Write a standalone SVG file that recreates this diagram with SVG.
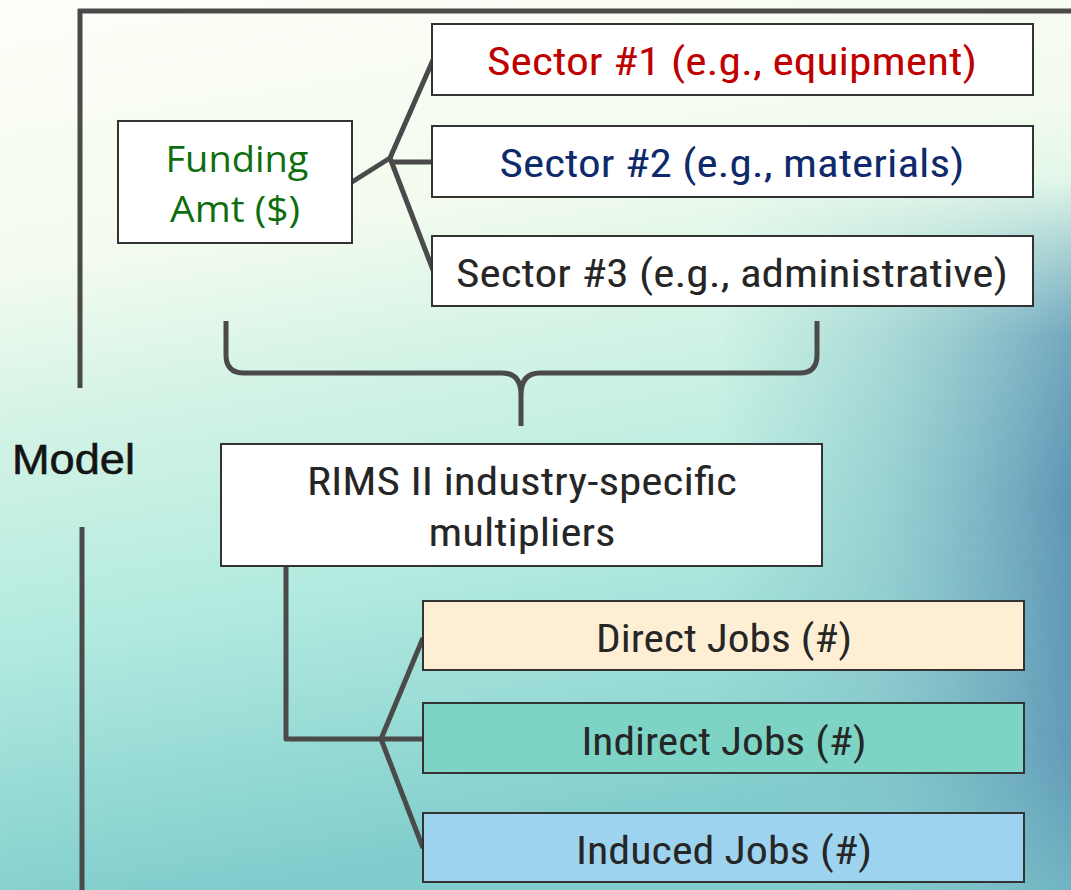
<svg xmlns="http://www.w3.org/2000/svg" width="1071" height="890" viewBox="0 0 1071 890">
<defs>
<linearGradient id="bg" x1="0" y1="0" x2="0.2" y2="1">
<stop offset="0" stop-color="#FEFEF8"/>
<stop offset="0.3" stop-color="#F2FBEE"/>
<stop offset="0.45" stop-color="#D5F4E6"/>
<stop offset="0.7" stop-color="#B2EADF"/>
<stop offset="1" stop-color="#80CDCD"/>
</linearGradient>
<linearGradient id="blueH" x1="720" y1="0" x2="1071" y2="0" gradientUnits="userSpaceOnUse">
<stop offset="0" stop-color="#8CC8CC" stop-opacity="0"/>
<stop offset="0.45" stop-color="#86C0C9" stop-opacity="0.55"/>
<stop offset="1" stop-color="#5E95B5" stop-opacity="1"/>
</linearGradient>
<linearGradient id="maskV" x1="0" y1="180" x2="0" y2="890" gradientUnits="userSpaceOnUse">
<stop offset="0" stop-color="#fff" stop-opacity="0"/>
<stop offset="0.22" stop-color="#fff" stop-opacity="0.8"/>
<stop offset="0.45" stop-color="#fff" stop-opacity="1"/>
<stop offset="0.8" stop-color="#fff" stop-opacity="0.9"/>
<stop offset="1" stop-color="#fff" stop-opacity="0.45"/>
</linearGradient>
<mask id="mv" maskUnits="userSpaceOnUse" x="0" y="0" width="1071" height="890">
<rect width="1071" height="890" fill="url(#maskV)"/>
</mask>
<style>
.ln{fill:none;stroke:#4A4A4A;stroke-width:5;stroke-linecap:butt;stroke-linejoin:round}
.box{stroke:#333;stroke-width:2}
.cond{font-family:"Liberation Sans Narrow","Roboto Condensed",Roboto,"Liberation Sans",sans-serif;font-size:39px;text-anchor:middle}
.cal{font-family:"Open Sans","Liberation Sans",sans-serif;font-size:37px;text-anchor:middle}
</style>
</defs>
<rect width="1071" height="890" fill="url(#bg)"/>
<rect x="700" width="371" height="890" fill="url(#blueH)" mask="url(#mv)"/>

<g id="frame">
<path class="ln" d="M78 11 H1071"/>
<path class="ln" d="M80 9 V388"/>
<path class="ln" d="M82 527 V890"/>
<text x="12" y="474" font-family="'Liberation Sans',Arial,sans-serif" font-size="43" fill="#141414" stroke="#141414" stroke-width="0.6" textLength="123" lengthAdjust="spacingAndGlyphs">Model</text>
</g>

<g id="connectors">
<path class="ln" d="M352 182 L390 158 L433 60"/>
<path class="ln" d="M390 158 L433 270"/>
<path class="ln" d="M390 162 H433"/>
<path class="ln" d="M226 321 V355 Q226 373 244 373 H502 Q521 373 521 395 V426 M521 426 V395 Q521 373 540 373 H800 Q817 373 817 355 V321"/>
<path class="ln" d="M286 566 V739 H423"/>
<path class="ln" d="M381 739 L423 638"/>
<path class="ln" d="M381 739 L423 848"/>
</g>

<g id="funding">
<rect class="box" x="118" y="121" width="234" height="122" fill="#FFFFFF"/>
<text class="cal" x="237" y="172" fill="#0E6E0E" textLength="143" lengthAdjust="spacingAndGlyphs">Funding</text>
<text class="cal" x="235" y="222" fill="#0E6E0E" textLength="130" lengthAdjust="spacingAndGlyphs">Amt ($)</text>
</g>

<g id="sector1">
<rect class="box" x="432" y="24" width="601" height="71" fill="#FFFFFF"/>
<text class="cond" x="732" y="75" fill="#C00000" textLength="490" lengthAdjust="spacingAndGlyphs">Sector #1 (e.g., equipment)</text>
</g>
<g id="sector2">
<rect class="box" x="432" y="126" width="601" height="71" fill="#FFFFFF"/>
<text class="cond" x="732" y="177" fill="#0F2A6B" textLength="465" lengthAdjust="spacingAndGlyphs">Sector #2 (e.g., materials)</text>
</g>
<g id="sector3">
<rect class="box" x="432" y="236" width="601" height="70" fill="#FFFFFF"/>
<text class="cond" x="732" y="287" fill="#262626" textLength="552" lengthAdjust="spacingAndGlyphs">Sector #3 (e.g., administrative)</text>
</g>

<g id="rims">
<rect class="box" x="221" y="444" width="601" height="122" fill="#FFFFFF"/>
<text class="cond" x="522" y="495" fill="#262626" textLength="430" lengthAdjust="spacingAndGlyphs">RIMS II industry-specific</text>
<text class="cond" x="522" y="546" fill="#262626" textLength="187" lengthAdjust="spacingAndGlyphs">multipliers</text>
</g>

<g id="direct">
<rect class="box" x="423" y="601" width="601" height="69" fill="#FEEFD4"/>
<text class="cond" x="724" y="652" fill="#262626" textLength="256" lengthAdjust="spacingAndGlyphs">Direct Jobs (#)</text>
</g>
<g id="indirect">
<rect class="box" x="423" y="703" width="601" height="70" fill="#7DD3C4"/>
<text class="cond" x="724" y="755" fill="#262626" textLength="285" lengthAdjust="spacingAndGlyphs">Indirect Jobs (#)</text>
</g>
<g id="induced">
<rect class="box" x="423" y="813" width="601" height="69" fill="#9DD3EE"/>
<text class="cond" x="724" y="864" fill="#262626" textLength="296" lengthAdjust="spacingAndGlyphs">Induced Jobs (#)</text>
</g>
</svg>
